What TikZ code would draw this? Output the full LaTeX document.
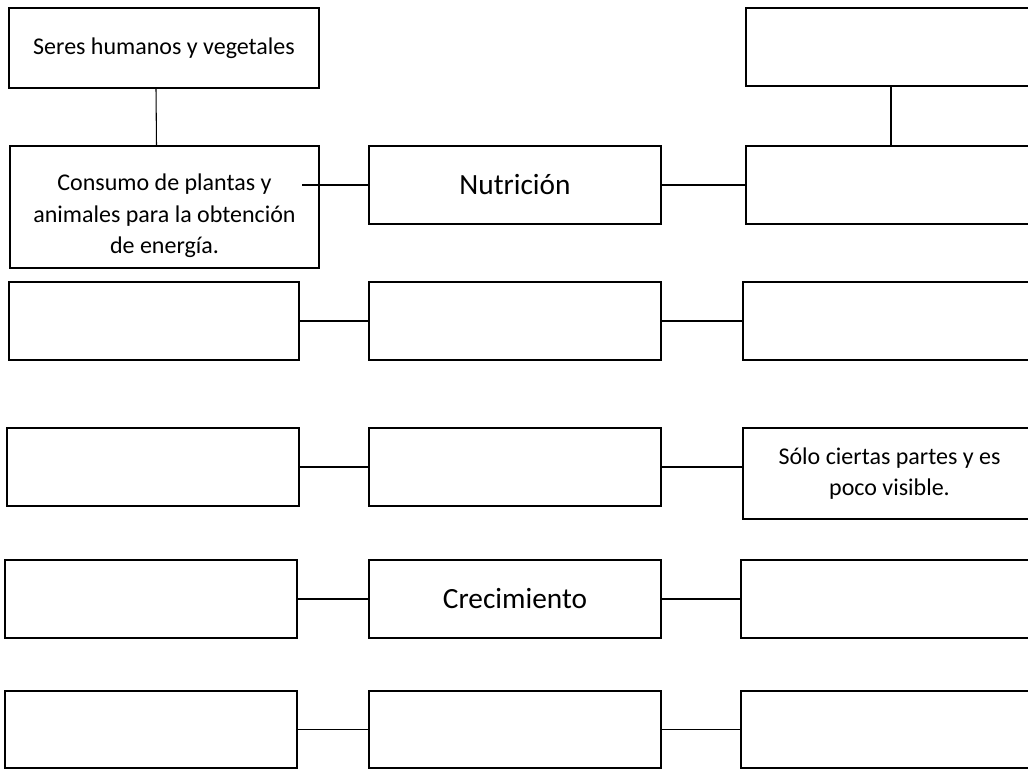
\documentclass[tikz,border=0pt]{standalone}
\usepackage{fontspec}
\setmainfont{Carlito}
\usepackage{tikz}
\usetikzlibrary{positioning}
\tikzset{caja/.style = {draw, rectangle, line width = 0.9pt, inner sep = 0, outer sep = 0, minimum width = 219pt, minimum height = 58.5pt, align = center, font = \fontsize{18}{23.5}\selectfont}}
\tikzset{grande/.style = {font = \fontsize{22}{26}\selectfont}}

\begin{document}
\begin{tikzpicture}[x=0.75pt, y=-0.75pt]
            \clip (0,0) rectangle (1028,769);
            \node [caja, minimum width = 232.5pt, minimum height = 60pt] (seres) at (164,48) {Seres humanos y vegetales};
            \node [caja, minimum width = 217.5pt] (arriba) at (891,47) {};
            \node [caja, minimum width = 231.75pt, minimum height = 91.5pt] (consumo) at (164.5,207) {\rule{0pt}{26pt}Consumo de plantas y\\animales para la obtención\\de energía.};
            \node [caja, grande] (nutricion) at (515,185) {Nutrición};
            \node [caja, minimum width = 217.5pt] (der1) at (891,185) {};
            \node [caja, minimum width = 217.5pt] (izq2) at (154,321) {};
            \node [caja] (med2) at (515,321) {};
            \node [caja, minimum width = 219.75pt] (der2) at (889.5,321) {};
            \node [caja] (izq3) at (153,467) {};
            \node [caja] (med3) at (515,467) {};
            \node [caja, minimum width = 219.75pt, minimum height = 68.25pt] (der3) at (889.5,473.5) {Sólo ciertas partes y es\\poco visible.};
            \node [caja] (izq4) at (151,599) {};
            \node [caja, grande] (crecimiento) at (515,599) {Crecimiento};
            \node [caja, minimum width = 221.25pt] (der4) at (888.5,599) {};
            \node [caja, minimum height = 57.75pt] (izq5) at (151,729.5) {};
            \node [caja, minimum height = 57.75pt] (med5) at (515,729.5) {};
            \node [caja, minimum width = 221.25pt, minimum height = 57.75pt] (der5) at (888.5,729.5) {};

            \coordinate (ini) at (302,185);
            \draw [line width=0.8pt] ([xshift=-6pt]seres.south) -- ([xshift=-6pt]consumo.north);
            \draw [line width=0.8pt] (arriba) -- (der1);
            \draw [line width=0.8pt] (ini) -- (nutricion.west);
            \draw [line width=0.8pt] (nutricion.east) -- (der1.west);
            \draw [line width=0.8pt] (izq2.east) -- (med2.west);
            \draw [line width=0.8pt] (med2.east) -- (der2.west);
            \draw [line width=0.8pt] (izq3.east) -- (med3.west);
            \draw [line width=0.8pt] (med3.east) -- (med3.east -| der3.west);
            \draw [line width=0.8pt] (izq4.east) -- (crecimiento.west);
            \draw [line width=0.8pt] (crecimiento.east) -- (der4.west);
            \draw [line width=0.8pt] (izq5.east) -- (med5.west);
            \draw [line width=0.8pt] (med5.east) -- (der5.west);
            
        \end{tikzpicture}
\end{document}
